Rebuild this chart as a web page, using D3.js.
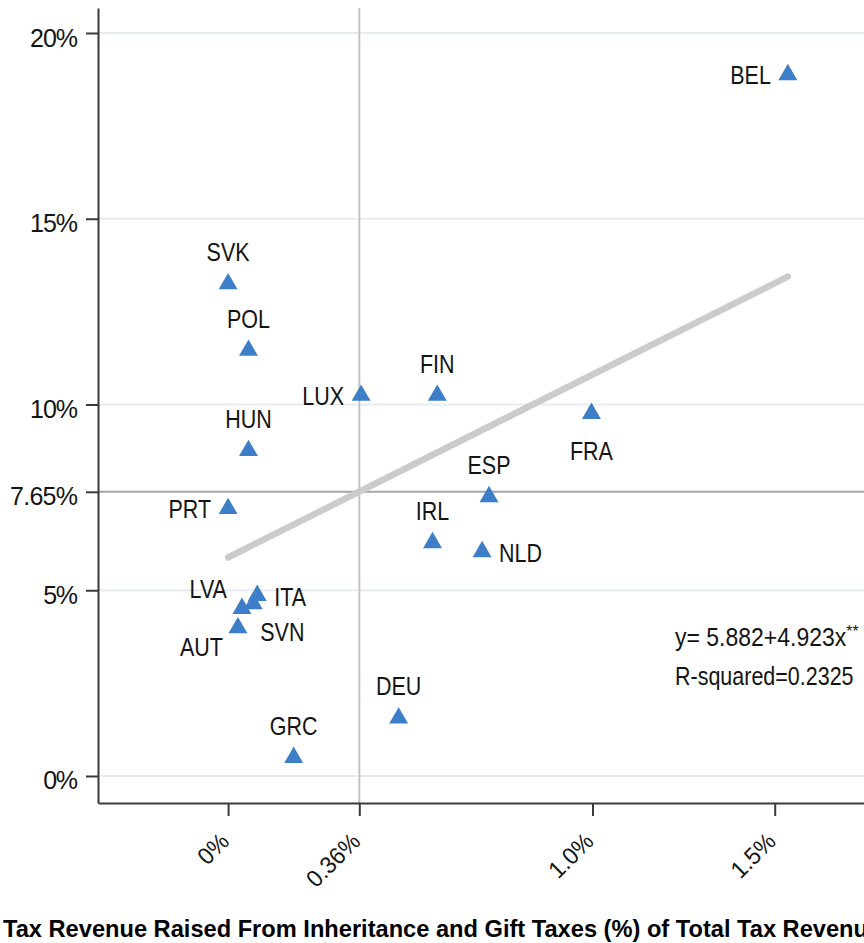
<!DOCTYPE html>
<html>
<head>
<meta charset="utf-8">
<script src="https://cdn.jsdelivr.net/npm/d3@7"></script>
<style>
  body { margin: 0; background: #fff; overflow: hidden; }
  svg { display: block; font-family: "Liberation Sans", Arial, Helvetica, sans-serif; }
</style>
</head>
<body>
<svg id="chart" width="864" height="943"></svg>
<script>

// country codes and values (x: inheritance & gift taxes share, y: share of total tax revenue)
let countries = ["BEL", "SVK", "POL", "HUN", "PRT", "LUX", "FIN", "FRA", "ESP", "IRL", "NLD",
                 "LVA", "ITA", "SVN", "AUT", "GRC", "DEU"]
let xValues   = [1.536, 0.000, 0.056, 0.056, 0.000, 0.365, 0.574, 0.997, 0.716, 0.561, 0.697,
                 0.038, 0.080, 0.069, 0.027, 0.180, 0.468]
let yValues   = [18.95, 13.32, 11.53, 8.83, 7.27, 10.32, 10.32, 9.83, 7.59, 6.35, 6.11,
                 4.58, 4.93, 4.71, 4.06, 0.57, 1.63]

let yTicks = [0, 5, 7.65, 10, 15, 20]
let yTickLabels = ["0%", "5%", "7.65%", "10%", "15%", "20%"]
let xTicks = [0, 0.36, 1.0, 1.5]
let xTickLabels = ["0%", "0.36%", "1.0%", "1.5%"]

let fitIntercept = 5.882
let fitSlope = 4.923
let refX = 0.36
let refY = 7.65
let eqLines = ["y= 5.882+4.923x", "R-squared=0.2325"]
let xTitle = "Tax Revenue Raised From Inheritance and Gift Taxes (%) of Total Tax Revenue"

// label placement (clock position, as in the original)
let labelClock = { BEL: 9, LUX: 9, PRT: 9, FRA: 6, NLD: 3, ITA: 3, LVA: 10, SVN: 4, AUT: 7 }

let svg = d3.select('#chart')
let W = 864

let x = d3.scaleLinear().domain([-0.357, 1.745]).range([98, 864])
let y = d3.scaleLinear().domain([-0.727, 20.673]).range([803, 8])

let blue = "#3d7ec8"
let ink = "#141414"

function txt(g, px, py, str, anchor, size, sx) {
    return g.append("text")
        .attr("transform", "translate(" + px + "," + py + ") scale(" + sx + ",1)")
        .attr("text-anchor", anchor)
        .attr("font-size", size)
        .attr("fill", ink)
        .text(str)
}

// grid lines
svg.append("g").selectAll("line")
    .data([0, 5, 10, 15, 20])
    .join("line")
        .attr("x1", x.range()[0]).attr("x2", W)
        .attr("y1", d => y(d)).attr("y2", d => y(d))
        .attr("stroke", "#e7ecf3")
        .attr("stroke-width", 2)

// reference lines
svg.append("line")
    .attr("x1", x(refX)).attr("x2", x(refX))
    .attr("y1", y.range()[1]).attr("y2", y.range()[0])
    .attr("stroke", "#c4c4c4").attr("stroke-width", 2)
svg.append("line")
    .attr("x1", x.range()[0]).attr("x2", W)
    .attr("y1", y(refY)).attr("y2", y(refY))
    .attr("stroke", "#a6a6a6").attr("stroke-width", 2)

// fitted line
let xMax = d3.max(xValues)
svg.append("line")
    .attr("x1", x(0)).attr("y1", y(fitIntercept))
    .attr("x2", x(xMax)).attr("y2", y(fitIntercept + fitSlope * xMax))
    .attr("stroke", "#cbcbcb")
    .attr("stroke-width", 6.5)
    .attr("stroke-linecap", "round")

// axes
let yAxis = svg.append("g")
    .attr("transform", "translate(" + x.range()[0] + ",0)")
    .call(d3.axisLeft(y).tickValues(yTicks).tickSize(12).tickSizeOuter(0).tickPadding(8)
        .tickFormat((d, i) => yTickLabels[i]))
yAxis.selectAll("text").attr("font-size", 25).attr("fill", ink)
    .attr("font-family", "Liberation Sans, Arial, sans-serif").attr("dy", "0.52em")
    .attr("textLength", function () { return this.getComputedTextLength() * 0.96 })

let xAxis = svg.append("g")
    .attr("transform", "translate(0," + y.range()[0] + ")")
    .call(d3.axisBottom(x).tickValues(xTicks).tickSize(13).tickSizeOuter(0)
        .tickFormat((d, i) => xTickLabels[i]))
xAxis.selectAll("text")
    .attr("font-size", 24).attr("fill", ink)
    .attr("font-family", "Liberation Sans, Arial, sans-serif")
    .attr("text-anchor", "end")
    .attr("x", 0).attr("y", 0).attr("dy", 0)
    .attr("transform", "translate(2,40) rotate(-45) scale(0.95,1)")

svg.selectAll(".domain, .tick line").attr("stroke", "#3a3a3a").attr("stroke-width", 2)

// markers
let pts = countries.map((c, i) => ({ c: c, x: xValues[i], y: yValues[i] }))
let tri = d3.symbol().type(d3.symbolTriangle).size(155)

svg.append("g").selectAll("path")
    .data(pts)
    .join("path")
        .attr("d", tri)
        .attr("transform", d => "translate(" + x(d.x) + "," + (y(d.y) + 2.7) + ")")
        .attr("fill", blue)

// marker labels
let fs = 25, sx = 0.86
let lab = svg.append("g")
pts.forEach(d => {
    let px = x(d.x), py = y(d.y)
    let clock = labelClock[d.c] || 12
    if (clock == 12) txt(lab, px, py - 20, d.c, "middle", fs, sx)
    else if (clock == 9) txt(lab, px - 17, py + 12, d.c, "end", fs, sx)
    else if (clock == 3) txt(lab, px + 17, py + 13, d.c, "start", fs, sx)
    else if (clock == 6) txt(lab, px, py + 49, d.c, "middle", fs, sx)
    else if (clock == 10) txt(lab, px - 15, py - 8, d.c, "end", fs, sx)
    else if (clock == 4) txt(lab, px + 7, py + 40, d.c, "start", fs, sx)
    else if (clock == 7) txt(lab, px - 15, py + 31, d.c, "end", fs, sx)
})

// equation text
let eq = txt(svg, 675, 646, eqLines[0], "start", fs, 0.92)
eq.append("tspan").attr("font-size", 17).attr("dy", -9).text("**")
txt(svg, 675, 685, eqLines[1], "start", fs, sx)

// x title (runs past the right edge as in the original)
svg.append("text")
    .attr("transform", "translate(3,937) scale(0.985,1)")
    .attr("font-size", 24)
    .attr("font-weight", "bold")
    .attr("fill", "#000")
    .text(xTitle)

</script>
</body>
</html>
